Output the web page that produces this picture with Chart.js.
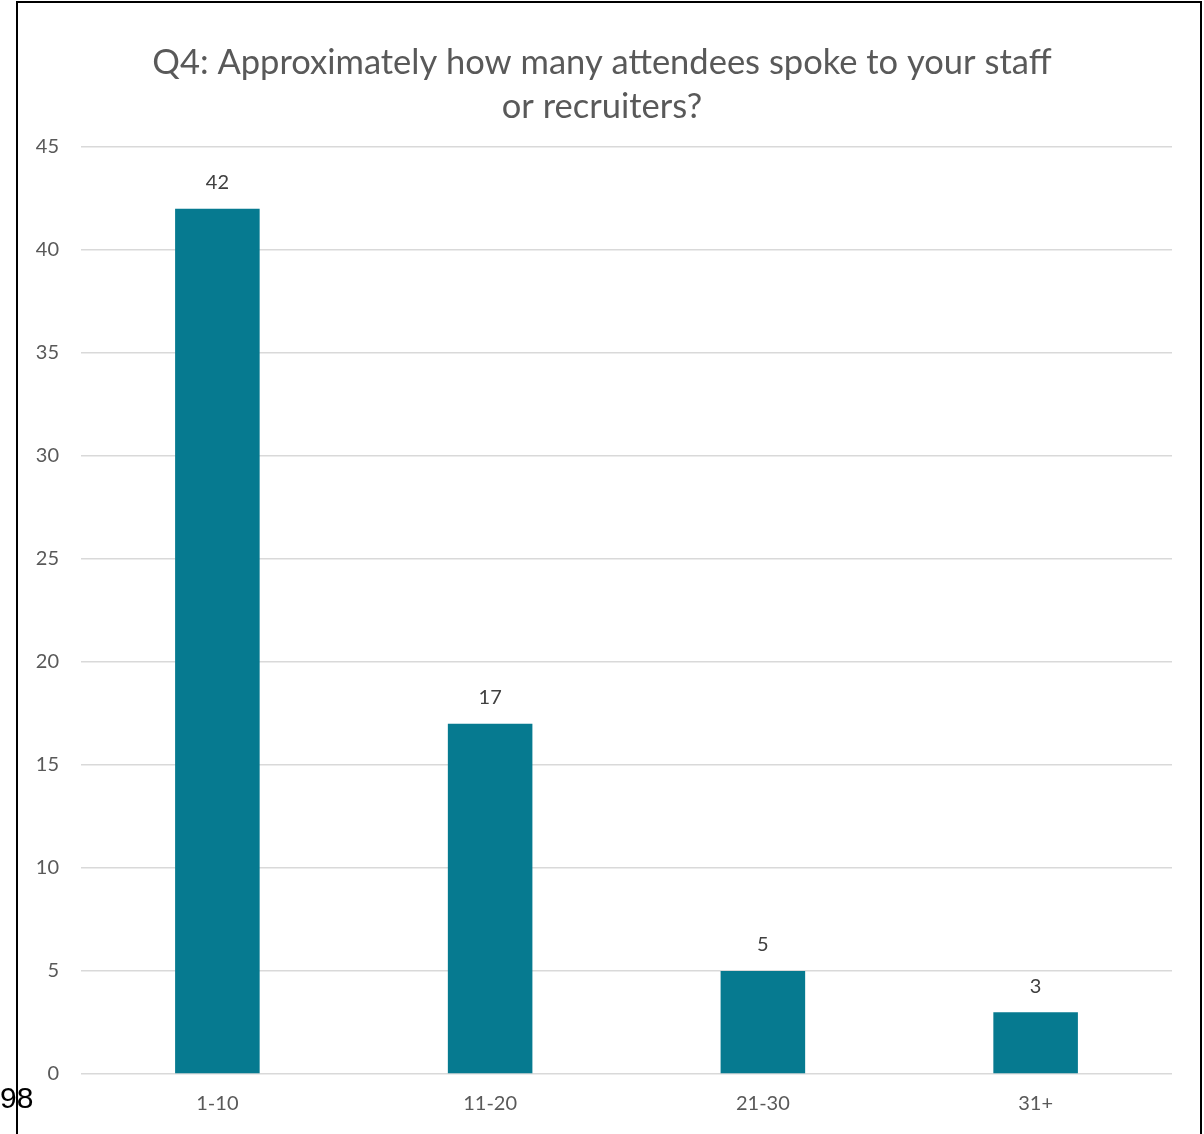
<!DOCTYPE html>
<html>
<head>
<meta charset="utf-8">
<script src="https://cdn.jsdelivr.net/npm/chart.js@4.4.1/dist/chart.umd.min.js"></script>
<style>
  html, body { margin: 0; padding: 0; background: #fff; width: 1204px; height: 1134px; overflow: hidden; }
  #wrap { position: absolute; left: 0; top: 0; width: 1204px; height: 1134px; }
  #frame { position: absolute; left: 16px; top: 1px; width: 1186px; height: 1140px; border: 2px solid #000; box-sizing: border-box; pointer-events: none; }
  #page { position: absolute; left: 0px; top: 1081px; font-family: "Liberation Sans", Arial, sans-serif; font-size: 30px; color: #000; line-height: 34px; }
</style>
</head>
<body>
<div id="wrap">
  <canvas id="c" width="1204" height="1134"></canvas>
  <div id="frame"></div>
  <div id="page">98</div>
</div>
<script>
const categories = ["1-10", "11-20", "21-30", "31+"];
const values = [42, 17, 5, 3];
const titleLines = ["Q4: Approximately how many attendees spoke to your staff", "or recruiters?"];
const yTicks = [0, 5, 10, 15, 20, 25, 30, 35, 40, 45];

const FONT = "Lato, 'Open Sans', sans-serif";

const valueLabels = {
  id: 'valueLabels',
  afterDatasetsDraw(chart) {
    const ctx = chart.ctx;
    const meta = chart.getDatasetMeta(0);
    ctx.save();
    ctx.font = "20px " + FONT;
    ctx.fillStyle = "#404040";
    ctx.textAlign = "center";
    ctx.textBaseline = "middle";
    meta.data.forEach((bar, i) => {
      ctx.fillText(String(values[i]), bar.x, bar.y - 26);
    });
    ctx.restore();
  }
};

new Chart(document.getElementById('c'), {
  type: 'bar',
  data: {
    labels: categories,
    datasets: [{
      data: values,
      backgroundColor: '#067A90',
      borderWidth: 0,
      barPercentage: 0.62,
      categoryPercentage: 0.5
    }]
  },
  options: {
    responsive: false,
    animation: false,
    layout: { padding: { left: 0, right: 0, top: 0, bottom: 0 } },
    plugins: {
      legend: { display: false },
      tooltip: { enabled: false },
      title: {
        display: true,
        text: titleLines,
        color: '#595959',
        font: { family: FONT, size: 34.5, weight: 'normal', lineHeight: 1.275 },
        padding: { top: 41, bottom: 18 }
      }
    },
    scales: {
      x: {
        grid: { display: false, drawTicks: false },
        border: { display: false },
        ticks: { color: '#595959', font: { family: FONT, size: 20 }, padding: 18 }
      },
      y: {
        min: 0,
        max: 45,
        afterFit(scale) { scale.width = 81; },
        afterBuildTicks(scale) { scale.ticks = yTicks.map(v => ({ value: v })); },
        grid: { color: '#d9d9d9', lineWidth: 1.5, drawTicks: false },
        border: { display: false },
        ticks: { color: '#595959', font: { family: FONT, size: 20 }, padding: 22 }
      },
      yRight: {
        position: 'right',
        display: true,
        min: 0,
        max: 45,
        afterFit(scale) { scale.width = 32; },
        grid: { display: false, drawTicks: false },
        border: { display: false },
        ticks: { display: false }
      }
    }
  },
  plugins: [valueLabels]
});
</script>
</body>
</html>
